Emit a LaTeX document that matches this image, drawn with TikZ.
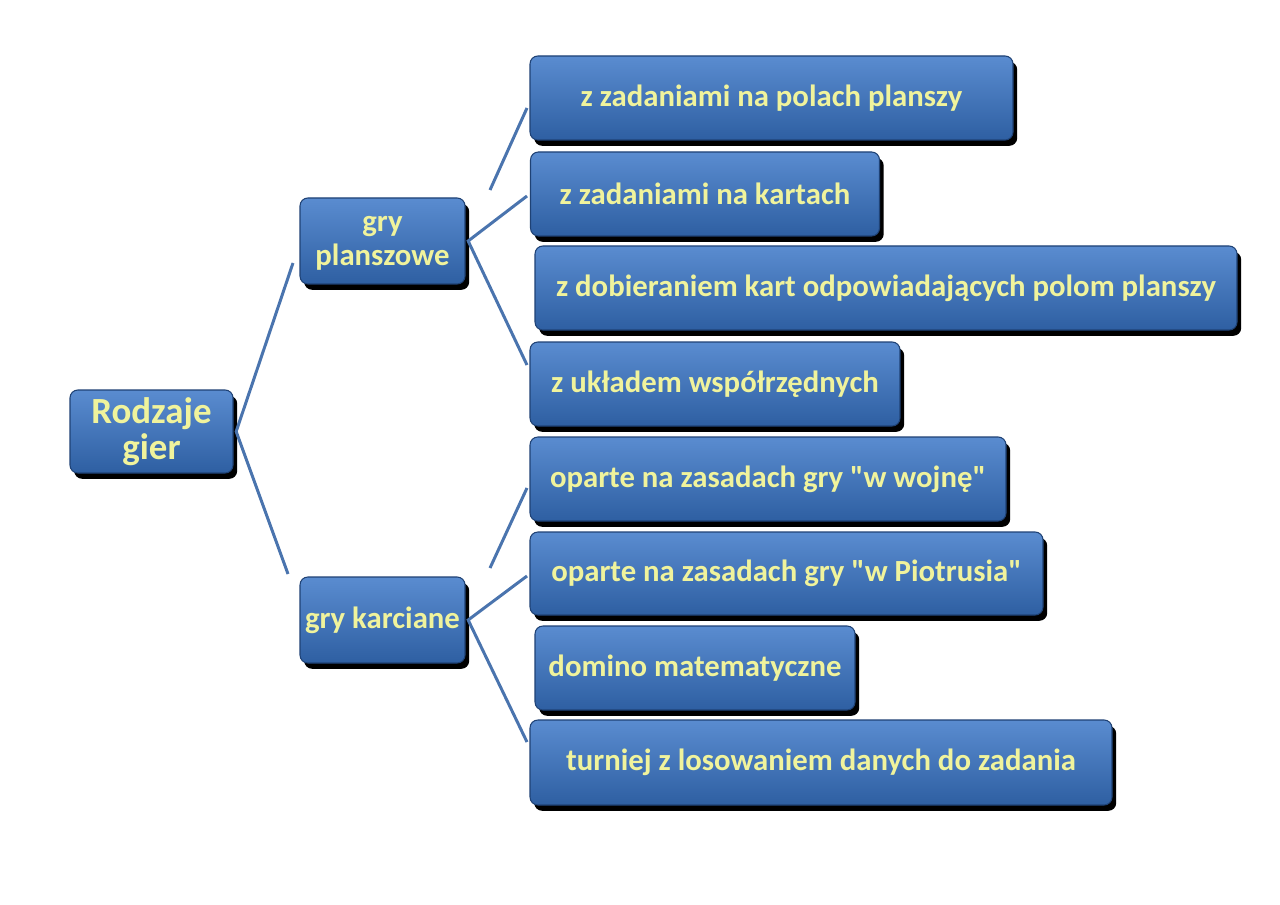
\documentclass[tikz,border=0pt]{standalone}
\usepackage{fontspec}
\newfontfamily\boxfont{Carlito}
\usetikzlibrary{shadows}
\definecolor{boxtop}{HTML}{5A8CD0}
\definecolor{boxmid}{HTML}{3D6FB5}
\definecolor{boxbot}{HTML}{2E5FA2}
\definecolor{boxline}{HTML}{1F4275}
\definecolor{txt}{HTML}{F0F39C}
\definecolor{connc}{HTML}{4A74AE}
\begin{document}
\begin{tikzpicture}[x=0.02cm,y=-0.02cm,
  box/.style={rounded corners=4.5pt, top color=boxtop, middle color=boxmid, bottom color=boxbot,
    draw=boxline, line width=0.6pt, text=txt,
    font=\boxfont\bfseries\fontsize{17.5}{19.5}\selectfont, align=center, inner sep=0pt,
    drop shadow={shadow xshift=2.4pt, shadow yshift=-3.3pt, fill=black, opacity=1}},
  rootbox/.style={box, font=\boxfont\bfseries\fontsize{21}{20.5}\selectfont},
  conn/.style={draw=connc, line width=1.7pt}]
\useasboundingbox[fill=white] (0,0) rectangle (1280,905);

\node[rootbox, minimum width=163*0.02cm, minimum height=83*0.02cm] (root) at (151.5,431.5) {Rodzaje\\gier};
\node[box, minimum width=165*0.02cm, minimum height=86*0.02cm, text depth=-2pt] (pl) at (382.5,241) {gry\\planszowe};
\node[box, minimum width=165*0.02cm, minimum height=86*0.02cm] (ka) at (382.5,620) {gry karciane};

\node[box, minimum width=483*0.02cm, minimum height=84*0.02cm] (c1) at (771.5,98) {z zadaniami na polach planszy};
\node[box, minimum width=349*0.02cm, minimum height=84*0.02cm] (c2) at (705,194) {z zadaniami na kartach};
\node[box, minimum width=702*0.02cm, minimum height=84*0.02cm] (c3) at (886,288) {z dobieraniem kart odpowiadających polom planszy};
\node[box, minimum width=370*0.02cm, minimum height=84*0.02cm] (c4) at (715,384) {z układem współrzędnych};
\node[box, minimum width=476*0.02cm, minimum height=84*0.02cm] (c5) at (768,479) {oparte na zasadach gry "w wojnę"};
\node[box, minimum width=513*0.02cm, minimum height=83*0.02cm] (c6) at (786.5,573.5) {oparte na zasadach gry "w Piotrusia"};
\node[box, minimum width=320*0.02cm, minimum height=84*0.02cm] (c7) at (695,668) {domino matematyczne};
\node[box, minimum width=582*0.02cm, minimum height=85*0.02cm] (c8) at (821,762.5) {turniej z losowaniem danych do zadania};

\coordinate (r1) at (293,263);
\coordinate (r2) at (288,574);
\coordinate (p1) at (527,196);
\coordinate (p2) at (527,365);
\coordinate (p3a) at (490,190);
\coordinate (p3b) at (527,108);
\coordinate (k1) at (527,576);
\coordinate (k2) at (527,742);
\coordinate (k3a) at (490,568);
\coordinate (k3b) at (527,488);

\draw[conn] (r1) -- ([xshift=1.5pt]root.east) -- (r2);
\draw[conn] (p1) -- ([xshift=1.5pt]pl.east) -- (p2);
\draw[conn] (p3a) -- (p3b);
\draw[conn] (k1) -- ([xshift=1.5pt]ka.east) -- (k2);
\draw[conn] (k3a) -- (k3b);
\end{tikzpicture}
\end{document}
